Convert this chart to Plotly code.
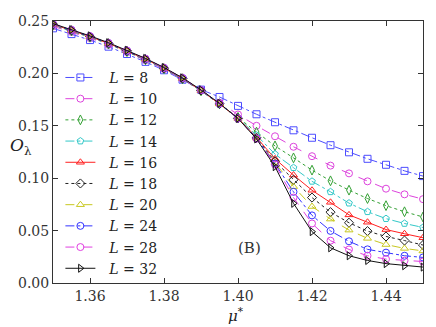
import plotly.graph_objects as go

mu = [1.350, 1.355, 1.360, 1.365, 1.370, 1.375, 1.380, 1.385, 1.390, 1.395, 1.400,
      1.405, 1.410, 1.415, 1.420, 1.425, 1.430, 1.435, 1.440, 1.445, 1.450]

sizes = [8, 10, 12, 14, 16, 18, 20, 24, 28, 32]

o_L8 = [0.2430, 0.2375, 0.2318, 0.2255, 0.2185, 0.2110, 0.2030, 0.1940, 0.1845, 0.1775, 0.1690,
        0.1610, 0.1534, 0.1457, 0.1386, 0.1315, 0.1247, 0.1185, 0.1128, 0.1070, 0.1020]
o_L10 = [0.2450, 0.2395, 0.2336, 0.2272, 0.2202, 0.2125, 0.2040, 0.1945, 0.1835, 0.1720, 0.1608,
         0.1500, 0.1400, 0.1300, 0.1210, 0.1120, 0.1046, 0.0970, 0.0900, 0.0846, 0.0800]
o_L12 = [0.2460, 0.2405, 0.2345, 0.2280, 0.2208, 0.2130, 0.2043, 0.1947, 0.1833, 0.1710, 0.1580,
         0.1440, 0.1308, 0.1194, 0.1077, 0.0975, 0.0886, 0.0806, 0.0738, 0.0680, 0.0630]
o_L14 = [0.2465, 0.2408, 0.2348, 0.2283, 0.2211, 0.2133, 0.2046, 0.1950, 0.1835, 0.1708, 0.1575,
         0.1410, 0.1230, 0.1100, 0.0970, 0.0870, 0.0762, 0.0680, 0.0614, 0.0568, 0.0530]
o_L16 = [0.2468, 0.2411, 0.2351, 0.2286, 0.2214, 0.2136, 0.2049, 0.1952, 0.1837, 0.1709, 0.1572,
         0.1390, 0.1185, 0.1030, 0.0885, 0.0770, 0.0650, 0.0580, 0.0510, 0.0470, 0.0432]
o_L18 = [0.2469, 0.2412, 0.2352, 0.2287, 0.2215, 0.2137, 0.2050, 0.1953, 0.1838, 0.1710, 0.1571,
         0.1385, 0.1160, 0.0985, 0.0815, 0.0676, 0.0575, 0.0495, 0.0444, 0.0405, 0.0362]
o_L20 = [0.2470, 0.2413, 0.2353, 0.2288, 0.2216, 0.2138, 0.2051, 0.1954, 0.1839, 0.1711, 0.1570,
         0.1382, 0.1150, 0.0920, 0.0730, 0.0610, 0.0505, 0.0426, 0.0367, 0.0330, 0.0306]
o_L24 = [0.2471, 0.2414, 0.2354, 0.2289, 0.2217, 0.2139, 0.2052, 0.1955, 0.1840, 0.1712, 0.1570,
         0.1380, 0.1140, 0.0870, 0.0645, 0.0497, 0.0398, 0.0321, 0.0290, 0.0260, 0.0244]
o_L28 = [0.2472, 0.2415, 0.2355, 0.2290, 0.2218, 0.2140, 0.2053, 0.1956, 0.1841, 0.1713, 0.1570,
         0.1378, 0.1130, 0.0815, 0.0568, 0.0404, 0.0320, 0.0260, 0.0228, 0.0213, 0.0205]
o_L32 = [0.2475, 0.2418, 0.2358, 0.2293, 0.2221, 0.2143, 0.2056, 0.1958, 0.1843, 0.1714, 0.1570,
         0.1375, 0.1110, 0.0760, 0.0490, 0.0336, 0.0260, 0.0215, 0.0185, 0.0165, 0.0152]

series = [o_L8, o_L10, o_L12, o_L14, o_L16, o_L18, o_L20, o_L24, o_L28, o_L32]

styles = [
    ('#4d4dff', 'dashdot', 'square-open'),
    ('#dd44dd', 'dash', 'circle-open'),
    ('#33a033', 'dot', 'diamond-tall-open'),
    ('#33c8c8', 'dashdot', 'pentagon-open'),
    ('#ff2020', 'solid', 'triangle-up-open'),
    ('#222222', 'dot', 'diamond-open'),
    ('#c8c820', 'dash', 'triangle-up-open'),
    ('#3333ff', 'dashdot', 'circle-open'),
    ('#e040e0', 'dash', 'circle-open'),
    ('#111111', 'solid', 'triangle-right-open'),
]

serif = "DejaVu Serif"

fig = go.Figure()
for L, vals, (color, dash, symbol) in zip(sizes, series, styles):
    fig.add_trace(go.Scatter(
        x=mu, y=vals,
        mode='lines+markers',
        name=f'&nbsp;&nbsp;<i>L</i>&nbsp;=&nbsp;{L}',
        line=dict(color=color, dash=dash, width=1),
        marker=dict(symbol=symbol, size=7, color=color, line=dict(color=color, width=1)),
    ))

fig.add_annotation(x=1.4032, y=0.0333, text='(B)', showarrow=False,
                   font=dict(family=serif, size=15, color='#333'))
fig.add_annotation(xref='paper', yref='paper', x=-0.122, y=0.52,
                   text='<i>O</i><sub>λ</sub>', showarrow=False,
                   font=dict(family=serif, size=17, color='#222'))
fig.add_annotation(xref='paper', yref='paper', x=0.495, y=-0.122, yanchor='middle',
                   text='<i>μ</i><sup>*</sup>', showarrow=False,
                   font=dict(family=serif, size=15, color='#222'))

axis_common = dict(
    showgrid=False, zeroline=False,
    showline=True, linecolor='#333', linewidth=1, mirror='ticks',
    ticks='inside', ticklen=5, tickcolor='#333',
    ticklabeloverflow='allow',
    tickfont=dict(family=serif, size=14, color='#333'),
)

# page body adds an 8px offset, so the figure is shrunk to keep the frame in place
fig.update_layout(
    width=428, height=319,
    margin=dict(l=45, r=13, t=5, b=44),
    paper_bgcolor='white', plot_bgcolor='white',
    showlegend=True,
    legend=dict(x=0.02, y=0.844, xanchor='left', yanchor='top',
                bgcolor='rgba(0,0,0,0)', font=dict(family=serif, size=14, color='#222'),
                tracegroupgap=0),
    xaxis=dict(range=[1.35, 1.45], tickvals=[1.36, 1.38, 1.40, 1.42, 1.44],
               ticktext=['1.36', '1.38', '1.40', '1.42', '1.44'], **axis_common),
    yaxis=dict(range=[0, 0.25], tickvals=[0, 0.05, 0.10, 0.15, 0.20, 0.25],
               ticktext=['0.00', '0.05', '0.10', '0.15', '0.20', '0.25'], **axis_common),
)

fig.write_html("out.html")
